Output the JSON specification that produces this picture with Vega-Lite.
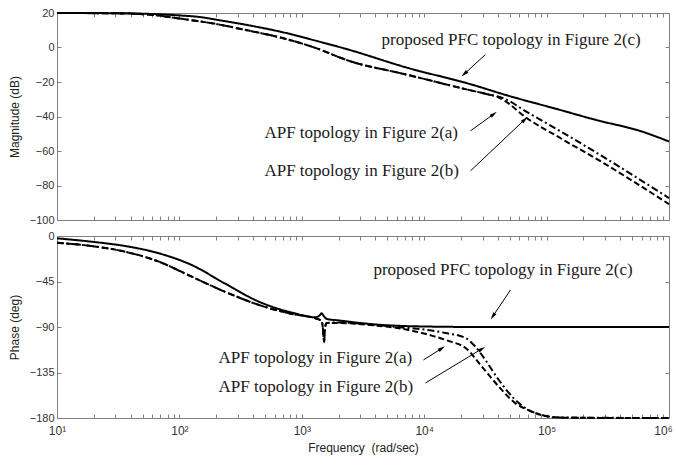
{
  "$schema": "https://vega.github.io/schema/vega-lite/v6.json",
  "background": "white",
  "padding": {"left": 8, "top": 7, "right": 5, "bottom": 5},
  "spacing": 5,
  "config": {
    "view": {"stroke": null},
    "axis": {
      "domainColor": "#808080", "tickColor": "#808080", "tickSize": -4, "labelPadding": 7,
      "labelColor": "#333333", "labelFont": "Liberation Sans", "labelFontSize": 11,
      "titleFont": "Liberation Sans", "titleFontSize": 12, "titleFontWeight": "normal", "titleColor": "#222222",
      "grid": false, "labelFlush": false, "labelOverlap": false
    }
  },
  "datasets": {
    "mag": [
      {"series": "c", "freq": 10, "value": 20}, {"series": "c", "freq": 30, "value": 19.9}, {"series": "c", "freq": 56, "value": 19.5},
      {"series": "c", "freq": 100, "value": 18.6}, {"series": "c", "freq": 150, "value": 17.6}, {"series": "c", "freq": 197, "value": 16.2},
      {"series": "c", "freq": 367, "value": 12.9}, {"series": "c", "freq": 684, "value": 9}, {"series": "c", "freq": 1290, "value": 4},
      {"series": "c", "freq": 2400, "value": -1.2}, {"series": "c", "freq": 7080, "value": -11.5}, {"series": "c", "freq": 24500, "value": -21.5},
      {"series": "c", "freq": 45700, "value": -27.4}, {"series": "c", "freq": 126000, "value": -36}, {"series": "c", "freq": 250000, "value": -41.9},
      {"series": "c", "freq": 600000, "value": -48.7}, {"series": "c", "freq": 1000000, "value": -54.5},
      {"series": "a", "freq": 10, "value": 20}, {"series": "a", "freq": 30, "value": 19.8}, {"series": "a", "freq": 56, "value": 19.1},
      {"series": "a", "freq": 100, "value": 16.8}, {"series": "a", "freq": 197, "value": 13.7}, {"series": "a", "freq": 367, "value": 9.8},
      {"series": "a", "freq": 684, "value": 5.6}, {"series": "a", "freq": 1290, "value": -0.2}, {"series": "a", "freq": 2400, "value": -7.6},
      {"series": "a", "freq": 7080, "value": -15.6}, {"series": "a", "freq": 24500, "value": -25}, {"series": "a", "freq": 33500, "value": -27.2},
      {"series": "a", "freq": 40700, "value": -28.5}, {"series": "a", "freq": 45700, "value": -29.8}, {"series": "a", "freq": 67600, "value": -37},
      {"series": "a", "freq": 126000, "value": -48}, {"series": "a", "freq": 300000, "value": -64}, {"series": "a", "freq": 1000000, "value": -87.3},
      {"series": "b", "freq": 10, "value": 20}, {"series": "b", "freq": 30, "value": 19.8}, {"series": "b", "freq": 56, "value": 19.1},
      {"series": "b", "freq": 100, "value": 16.8}, {"series": "b", "freq": 197, "value": 13.7}, {"series": "b", "freq": 367, "value": 9.8},
      {"series": "b", "freq": 684, "value": 5.6}, {"series": "b", "freq": 1290, "value": -0.2}, {"series": "b", "freq": 2400, "value": -7.6},
      {"series": "b", "freq": 7080, "value": -15.6}, {"series": "b", "freq": 24500, "value": -25}, {"series": "b", "freq": 33500, "value": -27.2},
      {"series": "b", "freq": 40700, "value": -29}, {"series": "b", "freq": 45700, "value": -31}, {"series": "b", "freq": 67600, "value": -40.5},
      {"series": "b", "freq": 126000, "value": -52}, {"series": "b", "freq": 300000, "value": -67.5}, {"series": "b", "freq": 1000000, "value": -90.8}
    ],
    "phase": [
      {"series": "c", "freq": 10, "value": -2.3}, {"series": "c", "freq": 19, "value": -5.6}, {"series": "c", "freq": 36, "value": -9.9},
      {"series": "c", "freq": 68, "value": -17.1}, {"series": "c", "freq": 126, "value": -28.7}, {"series": "c", "freq": 234, "value": -46.8},
      {"series": "c", "freq": 447, "value": -65}, {"series": "c", "freq": 832, "value": -75.8}, {"series": "c", "freq": 1290, "value": -80.4},
      {"series": "c", "freq": 1400, "value": -78.5}, {"series": "c", "freq": 1450, "value": -76.5}, {"series": "c", "freq": 1520, "value": -79.5},
      {"series": "c", "freq": 1600, "value": -82}, {"series": "c", "freq": 2000, "value": -83.5}, {"series": "c", "freq": 4000, "value": -87.5},
      {"series": "c", "freq": 10000, "value": -89.5}, {"series": "c", "freq": 30000, "value": -90}, {"series": "c", "freq": 1000000, "value": -90},
      {"series": "a", "freq": 10, "value": -6.6}, {"series": "a", "freq": 19, "value": -9.9}, {"series": "a", "freq": 36, "value": -15.5},
      {"series": "a", "freq": 68, "value": -25.4}, {"series": "a", "freq": 126, "value": -40.2}, {"series": "a", "freq": 234, "value": -55},
      {"series": "a", "freq": 447, "value": -68.2}, {"series": "a", "freq": 832, "value": -77.1}, {"series": "a", "freq": 1290, "value": -81.4},
      {"series": "a", "freq": 1450, "value": -84}, {"series": "a", "freq": 1490, "value": -92}, {"series": "a", "freq": 1520, "value": -105},
      {"series": "a", "freq": 1550, "value": -90}, {"series": "a", "freq": 1600, "value": -86}, {"series": "a", "freq": 2000, "value": -85.5},
      {"series": "a", "freq": 4000, "value": -88}, {"series": "a", "freq": 6000, "value": -90}, {"series": "a", "freq": 11500, "value": -93.5},
      {"series": "a", "freq": 15000, "value": -96}, {"series": "a", "freq": 21900, "value": -101}, {"series": "a", "freq": 26000, "value": -109},
      {"series": "a", "freq": 31600, "value": -122.6}, {"series": "a", "freq": 40700, "value": -142.4}, {"series": "a", "freq": 52500, "value": -159},
      {"series": "a", "freq": 67600, "value": -170.5}, {"series": "a", "freq": 91200, "value": -177}, {"series": "a", "freq": 120000, "value": -179.5},
      {"series": "a", "freq": 1000000, "value": -180},
      {"series": "b", "freq": 10, "value": -6.6}, {"series": "b", "freq": 19, "value": -9.9}, {"series": "b", "freq": 36, "value": -15.5},
      {"series": "b", "freq": 68, "value": -25.4}, {"series": "b", "freq": 126, "value": -40.2}, {"series": "b", "freq": 234, "value": -55},
      {"series": "b", "freq": 447, "value": -68.2}, {"series": "b", "freq": 832, "value": -77.1}, {"series": "b", "freq": 1290, "value": -81.4},
      {"series": "b", "freq": 1450, "value": -84}, {"series": "b", "freq": 1490, "value": -92}, {"series": "b", "freq": 1520, "value": -105},
      {"series": "b", "freq": 1550, "value": -90}, {"series": "b", "freq": 1600, "value": -86}, {"series": "b", "freq": 2000, "value": -86},
      {"series": "b", "freq": 4000, "value": -88.5}, {"series": "b", "freq": 6000, "value": -91}, {"series": "b", "freq": 11500, "value": -98.5},
      {"series": "b", "freq": 16000, "value": -104}, {"series": "b", "freq": 21900, "value": -111}, {"series": "b", "freq": 29500, "value": -129},
      {"series": "b", "freq": 40700, "value": -149}, {"series": "b", "freq": 55000, "value": -165}, {"series": "b", "freq": 75900, "value": -173.7},
      {"series": "b", "freq": 97700, "value": -178}, {"series": "b", "freq": 150000, "value": -179.8}, {"series": "b", "freq": 1000000, "value": -180}
    ],
    "magText": [
      {"label": "proposed PFC topology in Figure 2(c)", "x": 4480, "y": 4.6},
      {"label": "APF topology in Figure 2(a)", "x": 495, "y": -49.4},
      {"label": "APF topology in Figure 2(b)", "x": 495, "y": -71.5}
    ],
    "magArrows": [
      {"x": 31600, "y": -4.1, "x2": 21380, "y2": -15.2},
      {"x": 23900, "y": -48.3, "x2": 36800, "y2": -38.7},
      {"x": 23900, "y": -71.5, "x2": 66000, "y2": -41.9}
    ],
    "phaseText": [
      {"label": "proposed PFC topology in Figure 2(c)", "x": 3850, "y": -33.6},
      {"label": "APF topology in Figure 2(a)", "x": 209, "y": -120.7},
      {"label": "APF topology in Figure 2(b)", "x": 209, "y": -149.3}
    ],
    "phaseArrows": [
      {"x": 50700, "y": -53.4, "x2": 36500, "y2": -79.1},
      {"x": 9860, "y": -122.6, "x2": 13840, "y2": -111.3},
      {"x": 10240, "y": -145.4, "x2": 29400, "y2": -111.8}
    ]
  },
  "vconcat": [
    {
      "width": 612, "height": 207,
      "layer": [
        {
          "data": {"name": "mag"},
          "mark": {"type": "line", "color": "black", "strokeWidth": 2, "interpolate": "monotone"},
          "encoding": {
            "x": {"field": "freq", "type": "quantitative", "scale": {"type": "log", "domain": [10, 1000000]},
              "axis": {"orient": "bottom", "title": null, "labels": false,
                "values": [10,20,30,40,50,60,70,80,90,100,200,300,400,500,600,700,800,900,1000,2000,3000,4000,5000,6000,7000,8000,9000,10000,20000,30000,40000,50000,60000,70000,80000,90000,100000,200000,300000,400000,500000,600000,700000,800000,900000,1000000]}},
            "y": {"field": "value", "type": "quantitative", "scale": {"domain": [-100, 20]},
              "axis": {"orient": "left", "title": "Magnitude (dB)", "values": [-100,-80,-60,-40,-20,0,20], "titlePadding": 8}},
            "strokeDash": {"field": "series", "type": "nominal", "legend": null,
              "scale": {"domain": ["c", "a", "b"], "range": [[1, 0], [7, 3, 2, 3], [6, 3]]}}
          }
        },
        {
          "data": {"name": "magText"},
          "mark": {"type": "text", "font": "Liberation Serif", "fontSize": 17, "align": "left", "baseline": "middle", "color": "#1a1a1a"},
          "encoding": {
            "x": {"field": "x", "type": "quantitative", "scale": {"type": "log"},
              "axis": {"orient": "top", "title": null, "labels": false,
                "values": [10,20,30,40,50,60,70,80,90,100,200,300,400,500,600,700,800,900,1000,2000,3000,4000,5000,6000,7000,8000,9000,10000,20000,30000,40000,50000,60000,70000,80000,90000,100000,200000,300000,400000,500000,600000,700000,800000,900000,1000000]}},
            "y": {"field": "y", "type": "quantitative",
              "axis": {"orient": "right", "title": null, "labels": false, "values": [-100,-80,-60,-40,-20,0,20]}},
            "text": {"field": "label"}
          }
        },
        {
          "data": {"name": "magArrows"},
          "mark": {"type": "rule", "color": "black", "strokeWidth": 1},
          "encoding": {
            "x": {"field": "x", "type": "quantitative", "scale": {"type": "log"}, "axis": null},
            "y": {"field": "y", "type": "quantitative", "axis": null},
            "x2": {"field": "x2"}, "y2": {"field": "y2"}
          }
        },
        {
          "data": {"values": [{"x": 21380, "y": -15.2}]},
          "mark": {"type": "point", "shape": "M0,-1L0.45,0.8L-0.45,0.8Z", "filled": true, "color": "black", "opacity": 1, "size": 70, "angle": 227.6},
          "encoding": {"x": {"field": "x", "type": "quantitative", "scale": {"type": "log"}, "axis": null}, "y": {"field": "y", "type": "quantitative", "axis": null}}
        },
        {
          "data": {"values": [{"x": 36800, "y": -38.7}]},
          "mark": {"type": "point", "shape": "M0,-1L0.45,0.8L-0.45,0.8Z", "filled": true, "color": "black", "opacity": 1, "size": 70, "angle": 54.2},
          "encoding": {"x": {"field": "x", "type": "quantitative", "scale": {"type": "log"}, "axis": null}, "y": {"field": "y", "type": "quantitative", "axis": null}}
        },
        {
          "data": {"values": [{"x": 66000, "y": -41.9}]},
          "mark": {"type": "point", "shape": "M0,-1L0.45,0.8L-0.45,0.8Z", "filled": true, "color": "black", "opacity": 1, "size": 70, "angle": 46.6},
          "encoding": {"x": {"field": "x", "type": "quantitative", "scale": {"type": "log"}, "axis": null}, "y": {"field": "y", "type": "quantitative", "axis": null}}
        }
      ],
      "resolve": {"axis": {"x": "independent", "y": "independent"}}
    },
    {
      "width": 612, "height": 182,
      "layer": [
        {
          "data": {"name": "phase"},
          "mark": {"type": "line", "color": "black", "strokeWidth": 2, "interpolate": "monotone"},
          "encoding": {
            "x": {"field": "freq", "type": "quantitative", "scale": {"type": "log", "domain": [10, 1000000]},
              "axis": {"orient": "bottom", "title": "Frequency\u00a0\u00a0(rad/sec)", "titlePadding": 6, "labelPadding": 11,
                "labelExpr": "datum.value == 10 ? '10¹' : datum.value == 100 ? '10²' : datum.value == 1000 ? '10³' : datum.value == 10000 ? '10⁴' : datum.value == 100000 ? '10⁵' : datum.value == 1000000 ? '10⁶' : ''",
                "labelOffset": {"condition": {"test": "datum.value == 1000000", "value": -6}, "value": 0},
                "labelFontSize": 12,
                "values": [10,20,30,40,50,60,70,80,90,100,200,300,400,500,600,700,800,900,1000,2000,3000,4000,5000,6000,7000,8000,9000,10000,20000,30000,40000,50000,60000,70000,80000,90000,100000,200000,300000,400000,500000,600000,700000,800000,900000,1000000]}},
            "y": {"field": "value", "type": "quantitative", "scale": {"domain": [-180, 0]},
              "axis": {"orient": "left", "title": "Phase (deg)", "values": [-180,-135,-90,-45,0], "titlePadding": 8}},
            "strokeDash": {"field": "series", "type": "nominal", "legend": null,
              "scale": {"domain": ["c", "a", "b"], "range": [[1, 0], [7, 3, 2, 3], [6, 3]]}}
          }
        },
        {
          "data": {"name": "phaseText"},
          "mark": {"type": "text", "font": "Liberation Serif", "fontSize": 17, "align": "left", "baseline": "middle", "color": "#1a1a1a"},
          "encoding": {
            "x": {"field": "x", "type": "quantitative", "scale": {"type": "log"},
              "axis": {"orient": "top", "title": null, "labels": false,
                "values": [10,20,30,40,50,60,70,80,90,100,200,300,400,500,600,700,800,900,1000,2000,3000,4000,5000,6000,7000,8000,9000,10000,20000,30000,40000,50000,60000,70000,80000,90000,100000,200000,300000,400000,500000,600000,700000,800000,900000,1000000]}},
            "y": {"field": "y", "type": "quantitative",
              "axis": {"orient": "right", "title": null, "labels": false, "values": [-180,-135,-90,-45,0]}},
            "text": {"field": "label"}
          }
        },
        {
          "data": {"name": "phaseArrows"},
          "mark": {"type": "rule", "color": "black", "strokeWidth": 1},
          "encoding": {
            "x": {"field": "x", "type": "quantitative", "scale": {"type": "log"}, "axis": null},
            "y": {"field": "y", "type": "quantitative", "axis": null},
            "x2": {"field": "x2"}, "y2": {"field": "y2"}
          }
        },
        {
          "data": {"values": [{"x": 36500, "y": -79.1}]},
          "mark": {"type": "point", "shape": "M0,-1L0.45,0.8L-0.45,0.8Z", "filled": true, "color": "black", "opacity": 1, "size": 70, "angle": 214.2},
          "encoding": {"x": {"field": "x", "type": "quantitative", "scale": {"type": "log"}, "axis": null}, "y": {"field": "y", "type": "quantitative", "axis": null}}
        },
        {
          "data": {"values": [{"x": 13840, "y": -111.3}]},
          "mark": {"type": "point", "shape": "M0,-1L0.45,0.8L-0.45,0.8Z", "filled": true, "color": "black", "opacity": 1, "size": 70, "angle": 57},
          "encoding": {"x": {"field": "x", "type": "quantitative", "scale": {"type": "log"}, "axis": null}, "y": {"field": "y", "type": "quantitative", "axis": null}}
        },
        {
          "data": {"values": [{"x": 29400, "y": -111.8}]},
          "mark": {"type": "point", "shape": "M0,-1L0.45,0.8L-0.45,0.8Z", "filled": true, "color": "black", "opacity": 1, "size": 70, "angle": 58.9},
          "encoding": {"x": {"field": "x", "type": "quantitative", "scale": {"type": "log"}, "axis": null}, "y": {"field": "y", "type": "quantitative", "axis": null}}
        }
      ],
      "resolve": {"axis": {"x": "independent", "y": "independent"}}
    }
  ]
}
